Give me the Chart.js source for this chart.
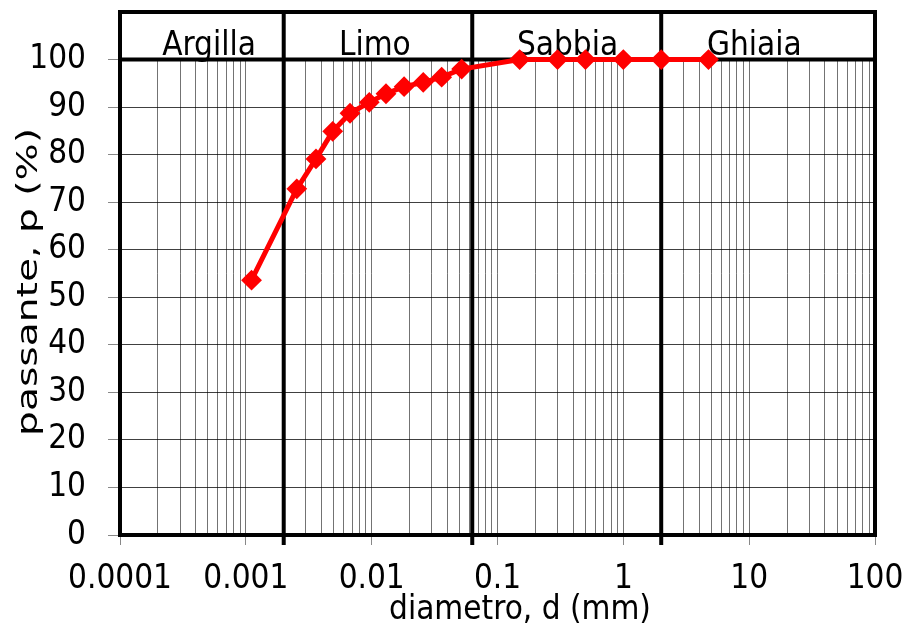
<!DOCTYPE html>
<html>
<head>
<meta charset="utf-8">
<script src="https://cdn.jsdelivr.net/npm/chart.js@4"></script>
<style>
  html, body { margin: 0; padding: 0; background: #fff; }
  #wrap { width: 905px; height: 631px; }
</style>
</head>
<body>
<div id="wrap"><canvas id="grafico"></canvas></div>
<script>
// dati della curva granulometrica
const diametri = [0.00111, 0.00254, 0.00361, 0.0049, 0.00673, 0.00957, 0.013, 0.0181, 0.0257, 0.036, 0.0519, 0.15, 0.3, 0.5, 1, 2, 4.75];
const passanti = [53.6, 72.8, 79.1, 84.9, 88.7, 91.0, 92.8, 94.3, 95.2, 96.3, 98.0, 100, 100, 100, 100, 100, 100];

// classi granulometriche
const classi = ['Argilla', 'Limo', 'Sabbia', 'Ghiaia'];
const posClassi = [0.00051, 0.0106, 0.36, 11];
const limitiClassi = [0.002, 0.063, 2];

// assi
const decadi = [0.0001, 0.001, 0.01, 0.1, 1, 10, 100];
const tickY = [0, 10, 20, 30, 40, 50, 60, 70, 80, 90, 100];

const FONT = '"DejaVu Sans Condensed", "DejaVu Sans", sans-serif';

// tacche minori 1..9 per ogni decade
const tickX = [];
decadi.slice(0, -1).forEach(d => {
    for (let k = 1; k <= 9; k++) tickX.push(k * d);
});
tickX.push(decadi[decadi.length - 1]);

const granulometria = {
    id: 'granulometria',
    beforeDatasetsDraw(chart) {
        const { ctx, chartArea: a, scales: { x, y } } = chart;
        const y100 = y.getPixelForValue(100);
        ctx.save();
        // fascia delle classi sopra il 100%
        ctx.fillStyle = '#fff';
        ctx.fillRect(a.left, a.top, a.right - a.left, y100 - a.top);
        ctx.fillStyle = '#000';
        ctx.font = '33px ' + FONT;
        ctx.textAlign = 'center';
        ctx.textBaseline = 'alphabetic';
        classi.forEach((c, i) => ctx.fillText(c, x.getPixelForValue(posClassi[i]), y100 - 5));

        // cornice e separatori spessi
        ctx.strokeStyle = '#000';
        ctx.lineWidth = 4;
        ctx.beginPath();
        ctx.rect(a.left, a.top, a.right - a.left, a.bottom - a.top);
        ctx.moveTo(a.left, y100);
        ctx.lineTo(a.right, y100);
        limitiClassi.forEach(v => {
            const px = x.getPixelForValue(v);
            ctx.moveTo(px, a.top);
            ctx.lineTo(px, a.bottom + 10);
        });
        ctx.stroke();

        // titoli assi
        ctx.textBaseline = 'middle';
        ctx.font = '33px ' + FONT;
        ctx.fillText('diametro, d (mm)', 520, 610);

        ctx.translate(30, 282);
        ctx.rotate(-Math.PI / 2);
        ctx.font = '28px ' + FONT;
        const w = ctx.measureText('passante, p (%)').width;
        ctx.scale(308 / w, 1);
        ctx.fillText('passante, p (%)', 0, 0);
        ctx.restore();
    }
};

const ctxGrafico = document.getElementById('grafico').getContext('2d');
const grafico = new Chart(ctxGrafico, {
    type: 'line',
    data: {
        datasets: [{
            data: diametri.map((d, i) => ({ x: d, y: passanti[i] })),
            borderColor: '#ff0000',
            backgroundColor: '#ff0000',
            borderWidth: 5,
            pointStyle: 'rectRot',
            pointRadius: 9,
            pointBorderWidth: 2,
            pointBackgroundColor: '#ff0000',
            pointBorderColor: '#ff0000',
            tension: 0,
            fill: false
        }]
    },
    options: {
        responsive: true,
        maintainAspectRatio: false,
        devicePixelRatio: 1,
        animation: false,
        layout: { autoPadding: false, padding: { top: 12, right: 30, left: 0, bottom: 0 } },
        plugins: { legend: { display: false }, tooltip: { enabled: false } },
        scales: {
            x: {
                type: 'logarithmic',
                min: 0.0001,
                max: 100,
                afterBuildTicks: s => { s.ticks = tickX.map(v => ({ value: v })); },
                afterFit: s => { s.height = 96; s.paddingLeft = 0; s.paddingRight = 0; },
                border: { display: false },
                grid: {
                    color: 'rgba(0,0,0,0.55)',
                    lineWidth: 1,
                    tickLength: 10,
                    tickColor: c => decadi.includes(c.tick.value) ? '#888' : 'rgba(0,0,0,0)'
                },
                ticks: {
                    autoSkip: false,
                    maxRotation: 0,
                    minRotation: 0,
                    padding: 15,
                    color: '#000',
                    font: { family: FONT, size: 33 },
                    callback: v => decadi.includes(v) ? String(v) : ''
                }
            },
            y: {
                min: 0,
                max: 110,
                afterBuildTicks: s => { s.ticks = tickY.concat([110]).map(v => ({ value: v })); },
                afterFit: s => { s.width = 120; s.paddingTop = 0; s.paddingBottom = 0; },
                border: { display: false },
                grid: {
                    color: 'rgba(0,0,0,0.75)',
                    lineWidth: 1,
                    tickLength: 12,
                    tickColor: c => c.tick.value <= 100 ? '#888' : 'rgba(0,0,0,0)'
                },
                ticks: {
                    padding: 22,
                    color: '#000',
                    font: { family: FONT, size: 33 },
                    callback: v => tickY.includes(v) ? String(v) : ''
                }
            }
        }
    },
    plugins: [granulometria]
});
</script>
</body>
</html>
